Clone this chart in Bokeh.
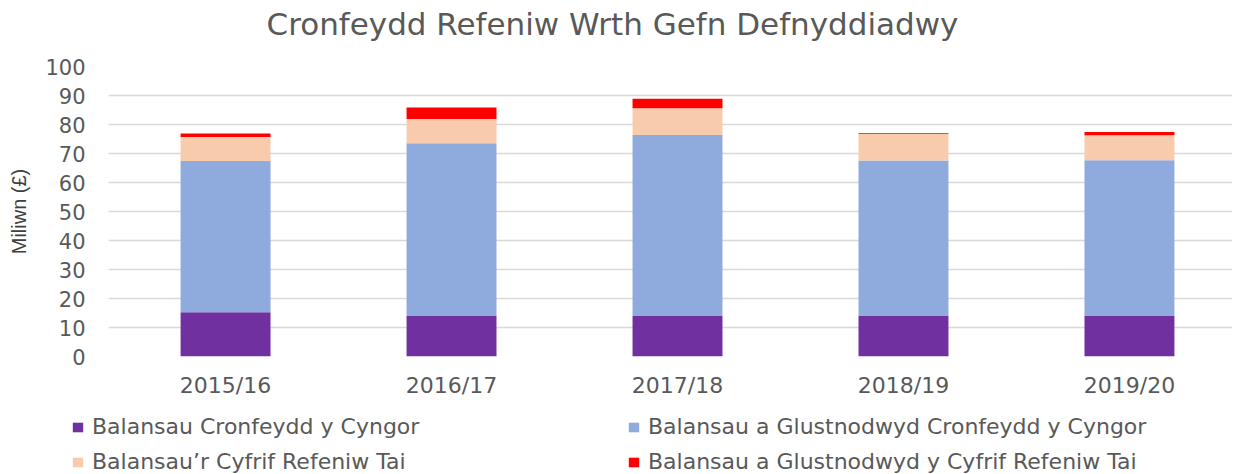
from bokeh.plotting import figure
from bokeh.models import ColumnDataSource, Range1d, FixedTicker, Legend, LegendItem, Label
from bokeh.embed import file_html
from bokeh.resources import INLINE

categories = ["2015/16", "2016/17", "2017/18", "2018/19", "2019/20"]
council_fund = [15.3, 14.1, 14.1, 14.0, 14.0]
council_earmarked = [52.1, 59.4, 62.3, 53.6, 53.7]
hra_balance = [8.3, 8.4, 9.2, 9.2, 8.6]
hra_earmarked = [1.2, 4.0, 3.3, 0.3, 1.1]

series_names = [
    "Balansau Cronfeydd y Cyngor",
    "Balansau a Glustnodwyd Cronfeydd y Cyngor",
    "Balansau\u2019r Cyfrif Refeniw Tai",
    "Balansau a Glustnodwyd y Cyfrif Refeniw Tai",
]
series_keys = ["c1", "c2", "c3", "c4"]
colors = ["#7030A0", "#8FAADC", "#F8CBAD", "#FF0000"]
y_ticks = list(range(0, 101, 10))
title_text = "Cronfeydd Refeniw Wrth Gefn Defnyddiadwy"

FONT = "DejaVu Sans"
TXT = "#595959"

x = list(range(len(categories)))
source = ColumnDataSource(dict(x=x, c1=council_fund, c2=council_earmarked,
                               c3=hra_balance, c4=hra_earmarked))

# title strip
tf = figure(width=1232, height=44, output_backend="svg", toolbar_location=None,
            x_range=Range1d(0, 1), y_range=Range1d(0, 1),
            min_border_left=0, min_border_right=0, min_border_top=0,
            min_border_bottom=0)
tf.axis.visible = False
tf.grid.visible = False
tf.outline_line_color = None
tf.add_layout(Label(x=266, y=21, x_units="screen", y_units="screen", text=title_text,
                    text_font=FONT, text_font_size="31px", text_color=TXT,
                    text_align="left", text_baseline="middle"))

# main chart
p = figure(width=1232, height=356, output_backend="svg", toolbar_location=None,
           x_range=Range1d(-0.518, 4.456), y_range=Range1d(0, 100),
           min_border_left=108, min_border_right=0, min_border_top=22,
           min_border_bottom=43)

p.vbar_stack(series_keys, x="x", width=0.398, color=colors,
             line_color=None, source=source)

p.outline_line_color = None
p.xgrid.grid_line_color = None
p.ygrid.grid_line_color = "#D9D9D9"
p.ygrid.grid_line_width = 1.3
p.ygrid.ticker = FixedTicker(ticks=y_ticks)

p.yaxis.ticker = FixedTicker(ticks=y_ticks)
p.yaxis.axis_line_color = None
p.yaxis.major_tick_line_color = None
p.yaxis.minor_tick_line_color = None
p.yaxis.major_label_text_font = FONT
p.yaxis.major_label_text_font_size = "21px"
p.yaxis.major_label_text_color = TXT
p.yaxis.major_label_standoff = 17
p.yaxis.axis_label = "Miliwn (\u00a3)"
p.yaxis.axis_label_text_font = "Liberation Sans"
p.yaxis.axis_label_text_font_size = "20px"
p.yaxis.axis_label_text_font_style = "normal"
p.yaxis.axis_label_text_color = "#404040"
p.yaxis.axis_label_standoff = 12

p.xaxis.ticker = FixedTicker(ticks=x)
p.xaxis.major_label_overrides = {i: c for i, c in enumerate(categories)}
p.xaxis.axis_line_color = None
p.xaxis.major_tick_line_color = None
p.xaxis.minor_tick_line_color = None
p.xaxis.major_label_text_font = FONT
p.xaxis.major_label_text_font_size = "22px"
p.xaxis.major_label_text_color = TXT
p.xaxis.major_label_standoff = 10

# legend strip
lf = figure(width=1232, height=74, output_backend="svg", toolbar_location=None,
            x_range=Range1d(0, 1), y_range=Range1d(1000, 1001),
            min_border_left=0, min_border_right=0, min_border_top=0,
            min_border_bottom=0)
lf.axis.visible = False
lf.grid.visible = False
lf.outline_line_color = None
lr = lf.vbar_stack(series_keys, x="x", width=0.398, color=colors,
                   line_color=None, source=source)


def make_legend(idxs, loc):
    lg = Legend(items=[LegendItem(label=series_names[i], renderers=[lr[i]]) for i in idxs],
                location=loc, orientation="vertical", padding=0, margin=0,
                spacing=10, glyph_width=13, glyph_height=12, label_standoff=8,
                label_text_font=FONT, label_text_font_size="22px",
                label_text_color=TXT, label_height=20,
                border_line_color=None, background_fill_alpha=0)
    lf.add_layout(lg, "center")


make_legend([0, 2], (71, 0))
make_legend([1, 3], (627, 0))

open("out.html", "w").write(file_html([tf, p, lf], INLINE))
